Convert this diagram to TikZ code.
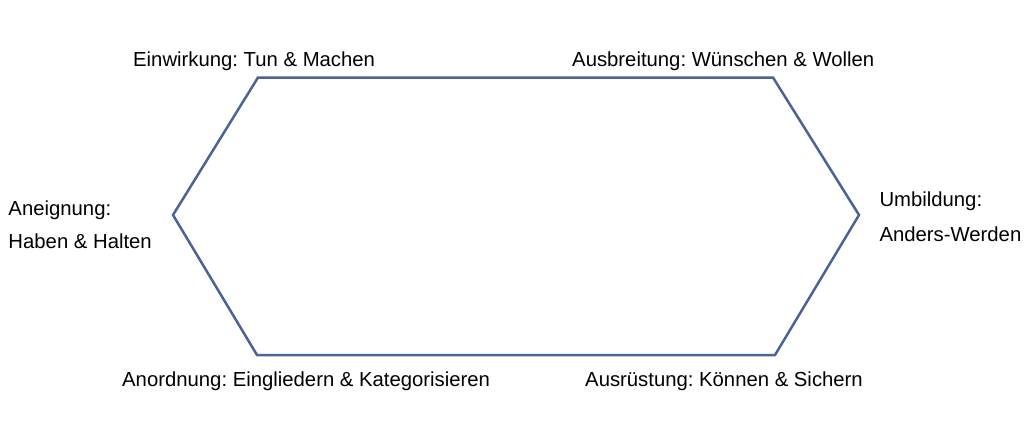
\documentclass[tikz,border=0pt]{standalone}
\usepackage{fontspec}
\setmainfont{Liberation Sans}
\frenchspacing
\definecolor{hexline}{RGB}{74,100,150}
\begin{document}
\begin{tikzpicture}[x=1pt,y=-1pt,
  lbl/.style={anchor=base west,inner sep=0pt,font=\fontsize{20.3}{24}\selectfont\frenchspacing,text=black},
  hexedge/.style={draw=hexline,line width=2.5pt,line join=miter}]
\useasboundingbox (0,0) rectangle (1024,445);
\coordinate (tl) at (258,77.5);
\coordinate (tr) at (773,77.5);
\coordinate (r) at (859,215);
\coordinate (br) at (775,355);
\coordinate (bl) at (257,355);
\coordinate (l) at (173,215);
\draw[hexedge] (tl) -- (tr) -- (r) -- (br) -- (bl) -- (l) -- cycle;
\node[lbl] (ein) at (133,66.7) {Einwirkung: Tun \& Machen};
\node[lbl] (aus) at (572,66.7) {Ausbreitung: Wünschen \& Wollen};
\node[lbl] (ane1) at (8.3,215) {Aneignung:};
\node[lbl] (ane2) at (8.3,248.3) {Haben \& Halten};
\node[lbl] (umb1) at (879.3,206.7) {Umbildung:};
\node[lbl] (umb2) at (879.3,241.7) {Anders-Werden};
\node[lbl] (ano) at (122,386.7) {Anordnung: Eingliedern \& Kategorisieren};
\node[lbl] (ausr) at (585,386.7) {Ausrüstung: Können \& Sichern};
\end{tikzpicture}
\end{document}
